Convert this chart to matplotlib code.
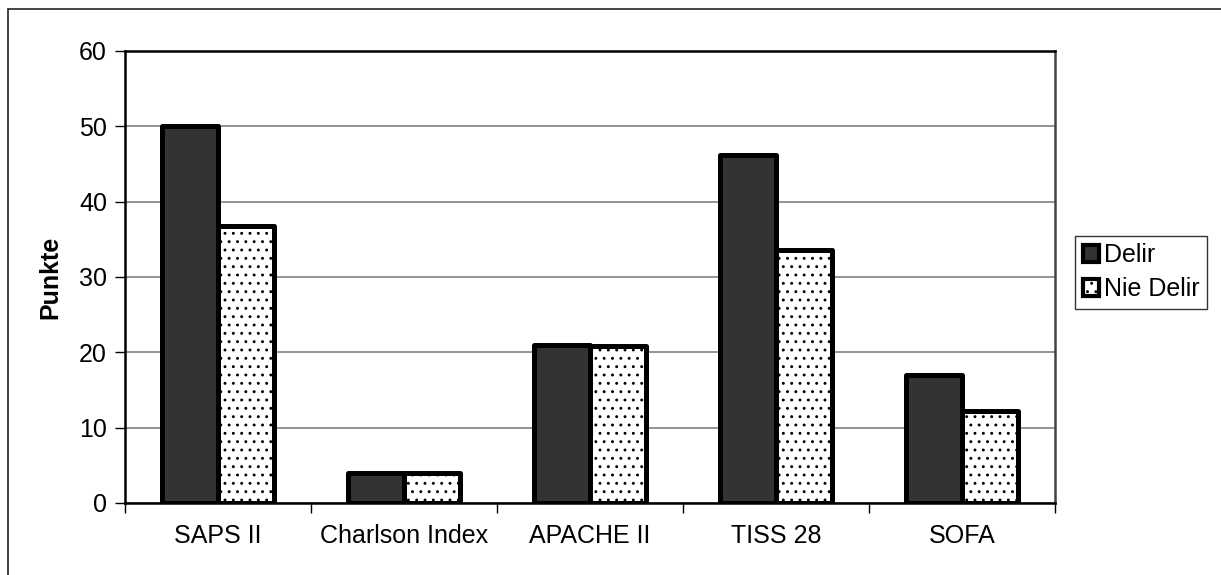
import matplotlib
matplotlib.use("Agg")
import matplotlib.pyplot as plt
from matplotlib.patches import Patch, Rectangle
import numpy as np

categories = ["SAPS II", "Charlson Index", "APACHE II", "TISS 28", "SOFA"]
delir = [50.0, 4.0, 21.0, 46.2, 17.0]
nie_delir = [36.8, 4.0, 20.8, 33.6, 12.2]
series_names = ["Delir", "Nie Delir"]
y_ticks = [0, 10, 20, 30, 40, 50, 60]

plt.rcParams['font.family'] = ['Liberation Sans', 'DejaVu Sans']
plt.rcParams['hatch.linewidth'] = 0.9
plt.rcParams['hatch.color'] = '#333333'

fig = plt.figure(figsize=(12.21, 5.75), dpi=100)
ax = fig.add_axes([125/1221, 1-503/575, (1055-125)/1221, (503-51)/575])

# outer frame
fig.patches.append(Rectangle((8/1221, -0.1), 1.5, (1-9/575)+0.1, transform=fig.transFigure,
                             fill=False, edgecolor='#222222', linewidth=1.2))

x = np.arange(len(categories))
w = 0.30
ax.bar(x - w/2, delir, w, color='#333333', edgecolor='black', linewidth=3.6, zorder=3,
       joinstyle='round')
ax.bar(x + w/2, nie_delir, w, color='white', edgecolor='black', linewidth=3.6, zorder=3,
       hatch='..', joinstyle='round')

ax.set_xlim(-0.5, len(categories) - 0.5)
ax.set_ylim(0, 60)
ax.set_yticks(y_ticks)
ax.set_yticklabels([str(v) for v in y_ticks], fontsize=18)
ax.set_xticks(x)
ax.set_xticklabels(categories, fontsize=18)
ax.tick_params(axis='x', length=0, pad=15)
ax.set_xticks(np.arange(-0.5, len(categories)), minor=True)
ax.tick_params(axis='x', which='minor', length=7, width=1, direction='out')
ax.tick_params(axis='y', length=7, width=1, direction='out', pad=6)
ax.yaxis.grid(True, color='#808080', linewidth=1.2, zorder=0)
ax.set_axisbelow(True)
for s in ax.spines.values():
    s.set_linewidth(1.8)
    s.set_color('black')
ax.spines['right'].set_color('#444444')
ax.set_ylabel("Punkte", fontsize=18, fontweight='bold', labelpad=12)

handles = [Patch(facecolor='#333333', edgecolor='black', linewidth=3),
           Patch(facecolor='white', edgecolor='black', linewidth=3, hatch='..')]
leg = fig.legend(handles, series_names, loc='upper left', bbox_to_anchor=(1075/1221, 1-236/575),
                 fontsize=18, frameon=True, fancybox=False, handlelength=0.65, handleheight=0.65,
                 handletextpad=0.2, borderpad=0.3, labelspacing=0.4, borderaxespad=0)
leg.get_frame().set_edgecolor('black')
leg.get_frame().set_linewidth(1.0)

fig.savefig("out.png", dpi=100)
